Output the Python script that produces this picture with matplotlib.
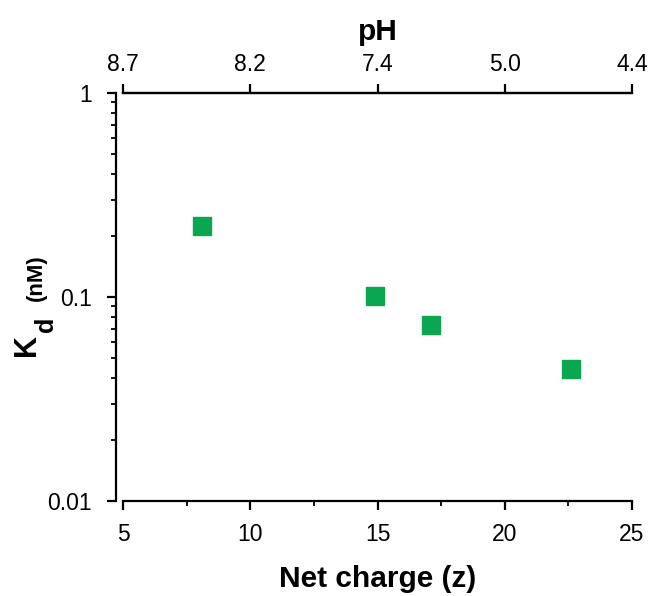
#!/usr/bin/env python3
# plot.py - Kd vs net charge, with pH on the top axis

import matplotlib
matplotlib.use("Agg", force=True)
import matplotlib.pyplot as plt

# ─── DATA ──────────────────────────────────────────────────────────────────────
net_charge = [8.1, 14.9, 17.1, 22.6]
kd_nM      = [0.222, 0.101, 0.073, 0.0443]

x_ticks    = [5, 10, 15, 20, 25]
ph_labels  = ["8.7", "8.2", "7.4", "5.0", "4.4"]
y_ticks    = [0.01, 0.1, 1]
y_labels   = ["0.01", "0.1", "1"]

GREEN = "#0aa650"
W, H = 658, 596

# ─── STYLE ─────────────────────────────────────────────────────────────────────
plt.rcParams["font.family"] = ["Liberation Sans", "DejaVu Sans"]

fig = plt.figure(figsize=(W / 100, H / 100), dpi=100)
ax = fig.add_axes([0.187, 0.1594, 0.7735, 0.6846])

ax.plot(net_charge, kd_nM, ls="none", marker="s", ms=13, color=GREEN, mec=GREEN)

ax.set_yscale("log")
ax.set_xlim(5, 25)
ax.set_ylim(0.01, 1)

# spines
ax.spines["right"].set_visible(False)
ax.spines["left"].set_position(("outward", 5))
for s in ("left", "bottom", "top"):
    ax.spines[s].set_linewidth(1.6)

ax.set_xticks(x_ticks)
ax.set_xticks([7.5, 12.5, 17.5, 22.5], minor=True)
ax.set_yticks(y_ticks)
ax.set_yticklabels(y_labels)

ax.tick_params(axis="both", which="major", labelsize=16.5, length=6.5, width=1.6,
               direction="out", pad=9)
ax.tick_params(axis="both", which="minor", length=3.8, width=1.3, direction="out")
ax.tick_params(axis="y", which="major", pad=11)
ax.tick_params(axis="y", which="minor", labelleft=False)

# ─── TOP pH AXIS ───────────────────────────────────────────────────────────────
top = ax.secondary_xaxis("top")
top.set_xticks(x_ticks)
top.set_xticklabels(ph_labels)
top.tick_params(axis="x", which="major", labelsize=16.5, length=6.5, width=1.6, pad=6)
top.tick_params(axis="x", which="minor", length=0)
top.spines["top"].set_linewidth(1.6)
top.set_xlabel("pH", fontsize=21.5, fontweight="bold", labelpad=9)

# ─── LABELS ────────────────────────────────────────────────────────────────────
ax.set_xlabel("Net charge (z)", fontsize=21.5, fontweight="bold", labelpad=14)

# y label "K_d (nM)" built from pieces: big K, subscript d, small (nM)
def px(x, y):
    return x / W, 1 - y / H

fig.text(*px(27, 345), "K", fontsize=22, fontweight="bold", rotation=90,
         ha="center", va="center")
fig.text(*px(46, 324), "d", fontsize=18, fontweight="bold", rotation=90,
         ha="center", va="center")
fig.text(*px(36, 278), "(nM)", fontsize=16, fontweight="bold", rotation=90,
         ha="center", va="center")

fig.savefig("out.png", dpi=100, facecolor="white")
